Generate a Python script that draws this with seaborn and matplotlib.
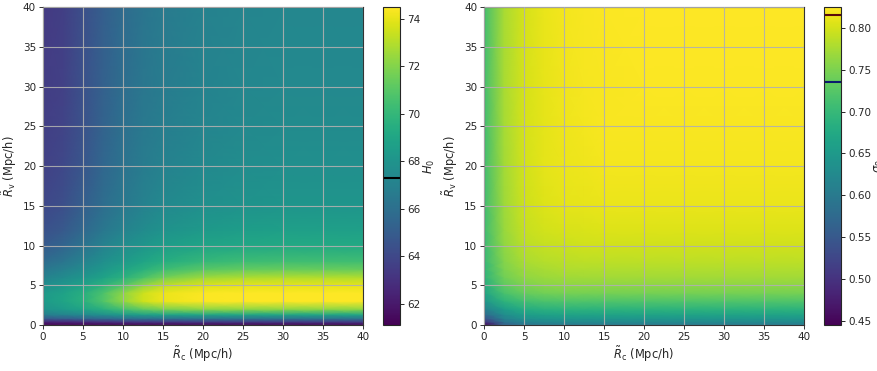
import numpy as np
import matplotlib
matplotlib.use("Agg")
import matplotlib.pyplot as plt
import seaborn as sns

# ------------------------------------------------------------------
# Grille
# ------------------------------------------------------------------
r_c = [0, 2.5, 5, 7.5, 10, 12.5, 15, 20, 25, 30, 35, 40]
r_v = [0, 0.4, 0.8, 1.3, 2, 3, 4, 5, 6, 7, 8, 10, 12, 15, 20, 25, 30, 40]

h0_rows = [
    [61.1, 61.1, 61.1, 61.1, 61.1, 61.1, 61.1, 61.1, 61.1, 61.1, 61.1, 61.1],
    [62.5, 62.6, 62.8, 63.0, 63.2, 63.3, 63.4, 63.5, 63.5, 63.5, 63.5, 63.5],
    [64.8, 65.0, 65.3, 65.6, 65.9, 66.0, 66.1, 66.2, 66.2, 66.2, 66.2, 66.2],
    [66.8, 67.1, 67.4, 67.8, 68.3, 68.6, 68.8, 69.0, 69.0, 69.0, 69.0, 69.0],
    [68.0, 68.4, 68.9, 69.6, 70.5, 71.3, 71.8, 72.2, 72.3, 72.3, 72.3, 72.3],
    [68.4, 68.9, 69.6, 70.8, 72.3, 73.5, 74.1, 74.4, 74.5, 74.5, 74.5, 74.5],
    [68.3, 68.8, 69.5, 70.7, 72.2, 73.5, 74.1, 74.4, 74.5, 74.5, 74.5, 74.5],
    [67.7, 68.2, 68.8, 69.7, 70.8, 72.2, 73.2, 73.8, 74.0, 74.0, 74.0, 74.0],
    [67.0, 67.5, 68.1, 68.8, 69.6, 70.6, 71.6, 72.5, 72.8, 72.9, 72.9, 72.9],
    [66.4, 66.9, 67.5, 68.2, 68.9, 69.6, 70.3, 71.0, 71.3, 71.4, 71.4, 71.4],
    [65.8, 66.3, 67.0, 67.7, 68.3, 68.9, 69.4, 70.0, 70.3, 70.4, 70.4, 70.4],
    [64.9, 65.4, 66.2, 67.0, 67.6, 68.1, 68.5, 68.9, 69.1, 69.2, 69.2, 69.2],
    [64.4, 64.8, 65.6, 66.4, 67.0, 67.5, 67.9, 68.3, 68.5, 68.6, 68.6, 68.6],
    [64.0, 64.3, 65.1, 65.9, 66.5, 67.0, 67.4, 67.8, 68.0, 68.1, 68.1, 68.1],
    [63.7, 64.0, 64.7, 65.5, 66.2, 66.7, 67.0, 67.4, 67.6, 67.7, 67.7, 67.7],
    [63.6, 63.8, 64.5, 65.3, 66.0, 66.5, 66.8, 67.2, 67.4, 67.5, 67.5, 67.5],
    [63.5, 63.7, 64.4, 65.2, 65.9, 66.4, 66.7, 67.1, 67.3, 67.4, 67.4, 67.4],
    [63.4, 63.6, 64.3, 65.1, 65.8, 66.3, 66.6, 67.0, 67.2, 67.3, 67.3, 67.3],
]

s8_rows = [
    [0.450, 0.560, 0.592, 0.598, 0.600, 0.600, 0.600, 0.600, 0.600, 0.600, 0.600, 0.600],
    [0.500, 0.590, 0.615, 0.622, 0.625, 0.625, 0.625, 0.625, 0.625, 0.625, 0.625, 0.625],
    [0.540, 0.610, 0.635, 0.642, 0.645, 0.645, 0.645, 0.645, 0.645, 0.645, 0.645, 0.645],
    [0.575, 0.630, 0.655, 0.662, 0.665, 0.665, 0.665, 0.665, 0.665, 0.665, 0.665, 0.665],
    [0.610, 0.655, 0.680, 0.687, 0.690, 0.690, 0.690, 0.690, 0.690, 0.690, 0.690, 0.690],
    [0.645, 0.690, 0.710, 0.717, 0.720, 0.720, 0.720, 0.720, 0.720, 0.720, 0.720, 0.720],
    [0.665, 0.715, 0.735, 0.742, 0.745, 0.745, 0.745, 0.745, 0.745, 0.745, 0.745, 0.745],
    [0.680, 0.730, 0.750, 0.757, 0.760, 0.760, 0.760, 0.760, 0.760, 0.760, 0.760, 0.760],
    [0.690, 0.742, 0.762, 0.768, 0.771, 0.772, 0.772, 0.772, 0.772, 0.772, 0.772, 0.772],
    [0.695, 0.750, 0.770, 0.776, 0.779, 0.780, 0.780, 0.780, 0.780, 0.780, 0.780, 0.780],
    [0.700, 0.755, 0.777, 0.783, 0.786, 0.787, 0.787, 0.787, 0.787, 0.787, 0.787, 0.787],
    [0.703, 0.762, 0.786, 0.792, 0.795, 0.797, 0.797, 0.797, 0.797, 0.797, 0.797, 0.797],
    [0.705, 0.766, 0.792, 0.799, 0.802, 0.804, 0.805, 0.805, 0.805, 0.805, 0.805, 0.805],
    [0.707, 0.770, 0.796, 0.805, 0.809, 0.811, 0.812, 0.812, 0.812, 0.812, 0.812, 0.812],
    [0.708, 0.773, 0.799, 0.809, 0.814, 0.816, 0.818, 0.818, 0.818, 0.818, 0.818, 0.818],
    [0.709, 0.774, 0.800, 0.810, 0.816, 0.819, 0.821, 0.821, 0.821, 0.821, 0.821, 0.821],
    [0.710, 0.775, 0.800, 0.811, 0.817, 0.820, 0.822, 0.823, 0.823, 0.823, 0.823, 0.823],
    [0.710, 0.775, 0.801, 0.812, 0.818, 0.821, 0.823, 0.824, 0.824, 0.824, 0.824, 0.824],
]

h0_range = (61.1, 74.5)
s8_range = (0.445, 0.825)
h0_ref = [67.3]
s8_refs = [0.815, 0.735]
s8_ref_colors = ["#5a0a0a", "#0a1a6e"]

# ------------------------------------------------------------------
# Figure
# ------------------------------------------------------------------
sns.set_theme(style="ticks")
plt.rcParams["font.family"] = ["DejaVu Sans"]
cmap = sns.color_palette("viridis", as_cmap=True)

TICK_FS = 7.5
LABEL_FS = 8.3

fig = plt.figure(figsize=(8.77, 3.71), dpi=100)
ax1 = fig.add_axes([0.049, 0.124, 0.365, 0.857])
cax1 = fig.add_axes([0.4367, 0.124, 0.0194, 0.857])
ax2 = fig.add_axes([0.5519, 0.124, 0.365, 0.857])
cax2 = fig.add_axes([0.9396, 0.124, 0.0194, 0.857])

X, Y = np.meshgrid(r_c, r_v)

panneaux = [
    (ax1, cax1, np.array(h0_rows), h0_range, r"$H_0$", h0_ref, ["black"]),
    (ax2, cax2, np.array(s8_rows), s8_range, r"$\sigma_8$", s8_refs, s8_ref_colors),
]

for ax, cax, Z, (vmin, vmax), label, refs, cols in panneaux:
    mesh = ax.pcolormesh(X, Y, Z, cmap=cmap, vmin=vmin, vmax=vmax,
                         shading="gouraud", rasterized=True)
    ax.set_xlim(0, 40)
    ax.set_ylim(0, 40)
    ax.set_xticks(range(0, 41, 5))
    ax.set_yticks(range(0, 41, 5))
    ax.grid(True, color="#b0b0b0", linewidth=0.8, alpha=0.9)
    ax.set_axisbelow(False)
    ax.tick_params(labelsize=TICK_FS, length=3, width=0.7, color="#333333", pad=2)
    for sp in ax.spines.values():
        sp.set_linewidth(0.8)
        sp.set_color("#333333")
    ax.set_xlabel(r"$\tilde{R}_{\rm c}$ (Mpc/h)", fontsize=LABEL_FS, labelpad=2)
    ax.set_ylabel(r"$\tilde{R}_{\rm v}$ (Mpc/h)", fontsize=LABEL_FS, labelpad=3)

    cb = fig.colorbar(mesh, cax=cax)
    cb.ax.tick_params(labelsize=TICK_FS, length=3, width=0.7, pad=2)
    cb.outline.set_linewidth(0.8)
    cb.set_label(label, fontsize=LABEL_FS, labelpad=1.5)
    for v, c in zip(refs, cols):
        cb.ax.axhline(v, color=c, linewidth=1.5)

fig.savefig("out.png", dpi=100)
